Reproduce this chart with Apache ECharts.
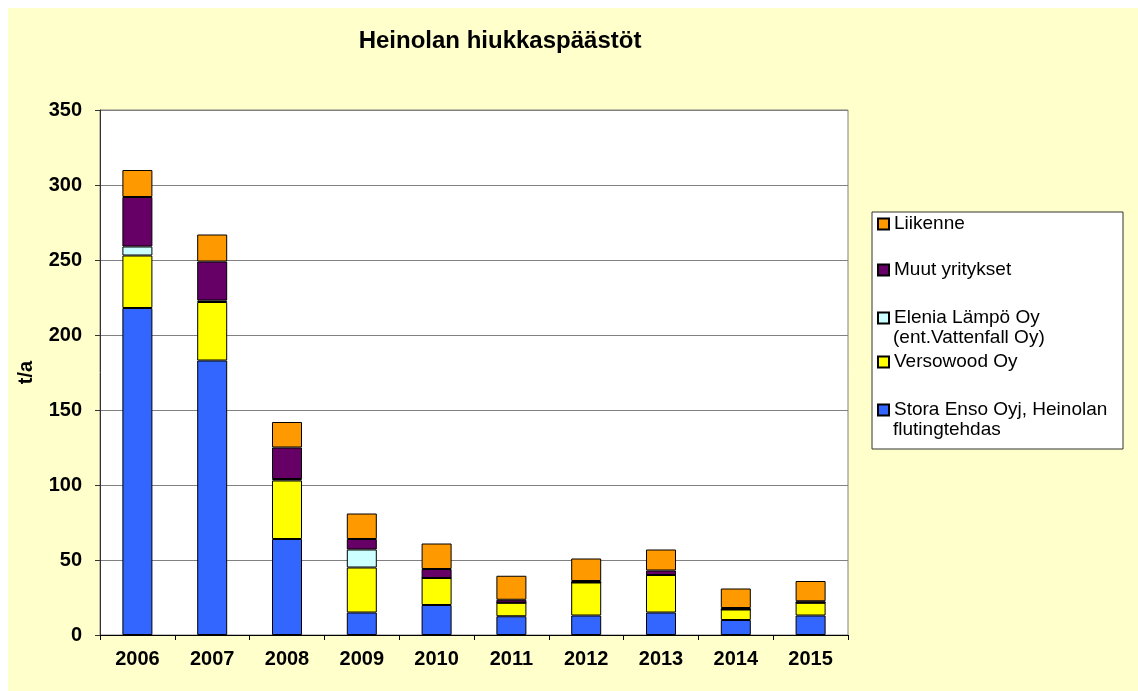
<!DOCTYPE html>
<html lang="fi">

<head>
    <meta charset="UTF-8">
    <title>Heinolan hiukkaspäästöt</title>
    <script src="https://cdn.jsdelivr.net/npm/echarts@6/dist/echarts.min.js"></script>
    <style>
        body { margin: 0; background: #fff; }
        #main { position: absolute; left: 8px; top: 8px; width: 1130px; height: 683px; }
    </style>
</head>

<body>
    <div id="main"></div>

    <script>
        var years = ['2006', '2007', '2008', '2009', '2010', '2011', '2012', '2013', '2014', '2015'];

        // sarjat alhaalta ylös
        var storaEnso = [218, 183, 64, 15, 20, 12.5, 13, 15, 10, 13];
        var versowood = [35, 39, 39, 30, 18, 9, 22, 25, 7, 8.5];
        var elenia = [6, 1, 1, 12, 0, 0, 0, 0, 0, 0];
        var muut = [33, 26, 21, 7, 6, 2, 1, 3, 1, 1];
        var liikenne = [18, 18, 17, 17, 17, 16, 15, 14, 13, 13.5];

        var names = ['Stora Enso Oyj, Heinolan\nflutingtehdas', 'Versowood Oy',
            'Elenia Lämpö Oy\n(ent.Vattenfall Oy)', 'Muut yritykset', 'Liikenne'];
        var colors = ['#3366FF', '#FFFF00', '#CCFFFF', '#660066', '#FF9900'];
        var values = [storaEnso, versowood, elenia, muut, liikenne];

        var font = 'Arial, "Liberation Sans", sans-serif';

        var series = [];
        for (var i = 0; i < names.length; i++) {
            series.push({
                name: names[i],
                type: 'bar',
                stack: 'yht',
                barWidth: 30,
                itemStyle: { color: colors[i], borderColor: '#000', borderWidth: 1 },
                data: values[i]
            });
        }

        // selite: ylhäältä alas, kohteiden keskikohdat
        var legendY = [216, 262, 310, 354, 402];
        var legends = [];
        var graphics = [{
            type: 'rect',
            shape: { x: 864, y: 204, width: 251, height: 237 },
            style: { fill: '#fff', stroke: '#333', lineWidth: 1 },
            z: -1
        }];
        for (var j = 0; j < names.length; j++) {
            var nm = names[names.length - 1 - j];
            legends.push({
                data: [nm],
                left: 869,
                top: legendY[j] - 10.5,
                padding: 0,
                itemWidth: 11,
                itemHeight: 11,
                icon: 'rect',
                selectedMode: false,
                formatter: function (n) { return n.split('\n')[0]; },
                textStyle: { fontFamily: font, fontSize: 19, lineHeight: 21, color: '#000' }
            });
            var parts = nm.split('\n');
            if (parts.length > 1) {
                graphics.push({
                    type: 'text',
                    left: 885,
                    top: legendY[j] + 10,
                    style: { text: parts[1], font: '19px ' + font, fill: '#000' }
                });
            }
        }

        var myChart = echarts.init(document.getElementById('main'));

        var option = {
            backgroundColor: '#FFFFCC',
            animation: false,
            title: {
                text: 'Heinolan hiukkaspäästöt',
                left: 492,
                textAlign: 'center',
                top: 21,
                padding: 0,
                textStyle: { fontFamily: font, fontSize: 24, fontWeight: 'bold', color: '#000' }
            },
            legend: legends,
            graphic: graphics,
            grid: {
                left: 92,
                top: 102,
                width: 748,
                height: 525,
                show: true,
                backgroundColor: '#fff',
                borderColor: '#808080',
                borderWidth: 1
            },
            xAxis: {
                type: 'category',
                data: years,
                axisLine: { lineStyle: { color: '#000', width: 1 } },
                axisTick: { show: true, length: 5, lineStyle: { color: '#000' } },
                axisLabel: { fontFamily: font, fontSize: 20, fontWeight: 'bold', color: '#000', margin: 14 }
            },
            yAxis: {
                type: 'value',
                min: 0,
                max: 350,
                interval: 50,
                name: 't/a',
                nameLocation: 'middle',
                nameGap: 64,
                nameTextStyle: { fontFamily: font, fontSize: 20, fontWeight: 'bold', color: '#000' },
                axisLine: { show: true, lineStyle: { color: '#333', width: 1 } },
                axisTick: { show: true, length: 5, lineStyle: { color: '#333' } },
                splitLine: { lineStyle: { color: '#808080', width: 1 } },
                axisLabel: { fontFamily: font, fontSize: 20, fontWeight: 'bold', color: '#000', margin: 18 }
            },
            series: series
        };

        myChart.setOption(option);
    </script>
</body>

</html>
